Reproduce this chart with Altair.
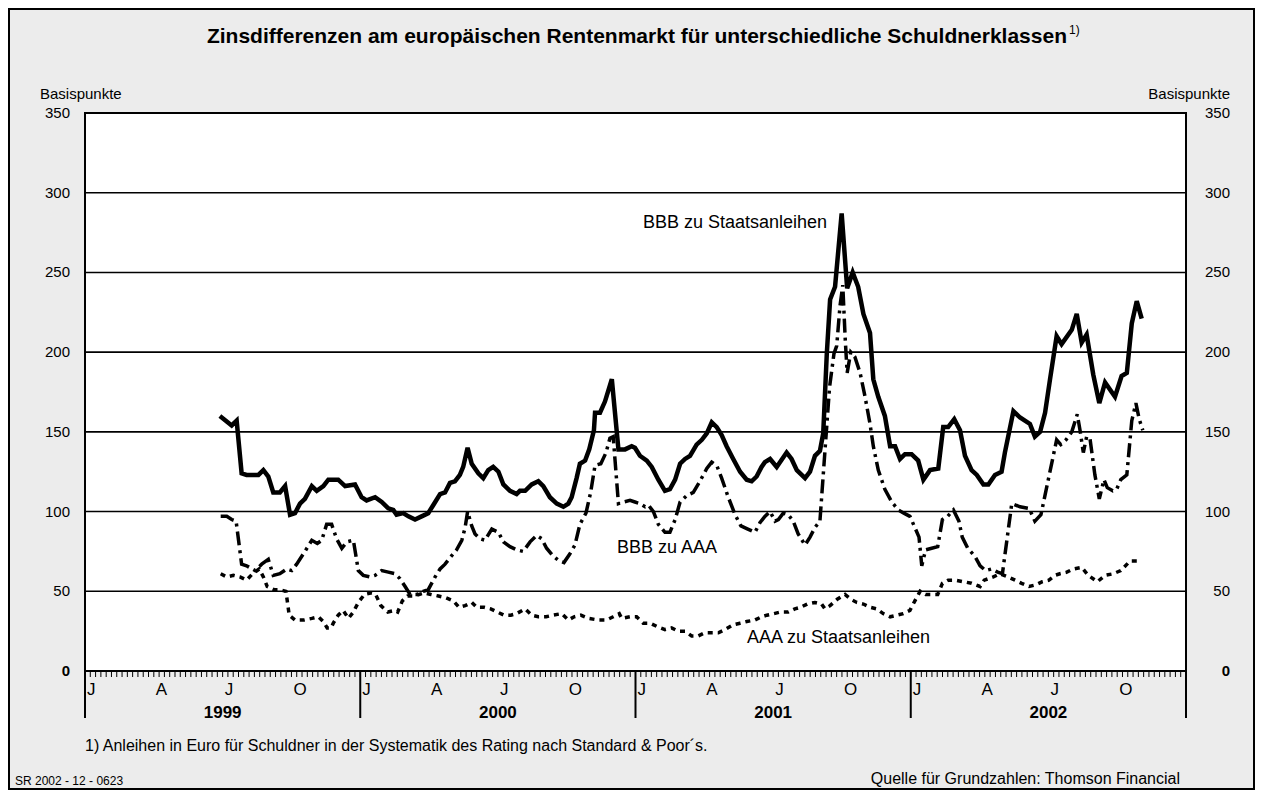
import altair as alt
import pandas as pd

# ---------------- data ----------------
bbb_staat_jahr = [1999.490, 1999.533, 1999.551, 1999.569, 1999.587, 1999.630, 1999.648, 1999.666, 1999.684, 1999.708,
                  1999.727, 1999.745, 1999.763, 1999.781, 1999.799, 1999.824, 1999.842, 1999.866, 1999.884, 1999.920,
                  1999.945, 1999.981, 2000.005, 2000.023, 2000.054, 2000.078, 2000.102, 2000.120, 2000.132, 2000.156,
                  2000.175, 2000.199, 2000.223, 2000.247, 2000.265, 2000.290, 2000.308, 2000.326, 2000.344, 2000.362,
                  2000.374, 2000.390, 2000.405, 2000.429, 2000.447, 2000.465, 2000.483, 2000.502, 2000.520, 2000.544,
                  2000.568, 2000.580, 2000.599, 2000.623, 2000.647, 2000.665, 2000.689, 2000.714, 2000.738, 2000.756,
                  2000.768, 2000.786, 2000.798, 2000.817, 2000.832, 2000.849, 2000.853, 2000.871, 2000.889, 2000.914,
                  2000.938, 2000.962, 2000.986, 2000.998, 2001.016, 2001.041, 2001.059, 2001.083, 2001.107, 2001.125,
                  2001.144, 2001.162, 2001.180, 2001.198, 2001.222, 2001.241, 2001.259, 2001.277, 2001.295, 2001.313,
                  2001.331, 2001.355, 2001.380, 2001.404, 2001.422, 2001.440, 2001.458, 2001.470, 2001.489, 2001.513,
                  2001.549, 2001.567, 2001.586, 2001.616, 2001.634, 2001.652, 2001.670, 2001.682, 2001.695, 2001.707,
                  2001.725, 2001.749, 2001.769, 2001.789, 2001.809, 2001.828, 2001.852, 2001.864, 2001.882, 2001.906,
                  2001.925, 2001.943, 2001.961, 2001.979, 2002.003, 2002.027, 2002.046, 2002.070, 2002.100, 2002.118,
                  2002.136, 2002.158, 2002.179, 2002.197, 2002.221, 2002.240, 2002.264, 2002.282, 2002.306, 2002.330,
                  2002.342, 2002.373, 2002.397, 2002.433, 2002.451, 2002.470, 2002.488, 2002.506, 2002.530, 2002.548,
                  2002.585, 2002.603, 2002.621, 2002.639, 2002.663, 2002.685, 2002.706, 2002.742, 2002.766, 2002.785,
                  2002.803, 2002.821, 2002.839]
bbb_staat_wert = [160, 154, 157, 124, 123, 123, 126, 122, 112, 112,
                  116, 98, 99, 105, 108, 116, 113, 116, 120, 120,
                  116, 117, 109, 107, 109, 106, 102, 101, 98, 99,
                  97, 95, 97, 99, 104, 111, 112, 118, 119, 123,
                  128, 140, 130, 124, 121, 126, 128, 125, 117, 113,
                  111, 113, 113, 117, 119, 116, 109, 105, 103, 105,
                  109, 121, 130, 132, 139, 151, 162, 162, 169, 183,
                  139, 139, 141, 140, 135, 132, 128, 120, 113, 114,
                  120, 130, 133, 135, 142, 145, 149, 156, 153, 148,
                  141, 133, 125, 120, 119, 122, 128, 131, 133, 128,
                  137, 133, 126, 121, 125, 135, 138, 149, 199, 233,
                  241, 287, 240, 250, 241, 224, 212, 183, 172, 160,
                  141, 141, 133, 136, 136, 132, 120, 126, 127, 153,
                  153, 158, 151, 135, 126, 123, 117, 117, 123, 125,
                  137, 163, 159, 155, 147, 150, 162, 183, 210, 205,
                  214, 224, 206, 211, 186, 168, 181, 172, 185, 187,
                  218, 232, 221]

bbb_aaa_jahr = [1999.493, 1999.515, 1999.533, 1999.549, 1999.569, 1999.587, 1999.618, 1999.642, 1999.666, 1999.684,
                1999.708, 1999.733, 1999.751, 1999.769, 1999.799, 1999.824, 1999.844, 1999.860, 1999.878, 1999.896,
                1999.914, 1999.933, 1999.951, 1999.975, 1999.993, 2000.011, 2000.035, 2000.054, 2000.078, 2000.102,
                2000.126, 2000.144, 2000.163, 2000.181, 2000.205, 2000.229, 2000.247, 2000.272, 2000.290, 2000.308,
                2000.326, 2000.350, 2000.369, 2000.381, 2000.390, 2000.405, 2000.417, 2000.435, 2000.453, 2000.478,
                2000.502, 2000.520, 2000.544, 2000.568, 2000.592, 2000.617, 2000.641, 2000.659, 2000.677, 2000.701,
                2000.723, 2000.740, 2000.760, 2000.780, 2000.798, 2000.820, 2000.837, 2000.853, 2000.874, 2000.893,
                2000.907, 2000.919, 2000.938, 2000.956, 2000.980, 2000.998, 2001.016, 2001.035, 2001.047, 2001.065,
                2001.083, 2001.107, 2001.125, 2001.144, 2001.162, 2001.186, 2001.210, 2001.234, 2001.259, 2001.277,
                2001.295, 2001.313, 2001.337, 2001.362, 2001.383, 2001.408, 2001.434, 2001.452, 2001.470, 2001.489,
                2001.507, 2001.519, 2001.537, 2001.555, 2001.573, 2001.591, 2001.616, 2001.634, 2001.652, 2001.670,
                2001.705, 2001.721, 2001.731, 2001.743, 2001.753, 2001.762, 2001.769, 2001.782, 2001.797, 2001.816,
                2001.834, 2001.852, 2001.864, 2001.882, 2001.906, 2001.931, 2001.955, 2001.975, 2001.997, 2002.015,
                2002.030, 2002.040, 2002.054, 2002.076, 2002.098, 2002.115, 2002.134, 2002.155, 2002.175, 2002.187,
                2002.207, 2002.233, 2002.252, 2002.272, 2002.294, 2002.316, 2002.333, 2002.367, 2002.397, 2002.430,
                2002.451, 2002.473, 2002.530, 2002.545, 2002.564, 2002.585, 2002.605, 2002.615, 2002.627, 2002.639,
                2002.651, 2002.669, 2002.685, 2002.702, 2002.714, 2002.734, 2002.748, 2002.763, 2002.785, 2002.803,
                2002.818, 2002.830, 2002.843]
bbb_aaa_wert = [97, 97, 95, 94, 67, 66, 63, 67, 70, 60,
                61, 64, 63, 67, 75, 82, 80, 82, 92, 92,
                83, 77, 81, 82, 63, 60, 59, 60, 63, 62,
                61, 58, 53, 48, 48, 50, 51, 59, 64, 67,
                71, 76, 82, 90, 100, 91, 86, 83, 82, 89,
                87, 81, 78, 76, 75, 81, 85, 83, 77, 72,
                69, 68, 73, 79, 92, 99, 112, 129, 130, 137,
                146, 147, 105, 106, 107, 106, 105, 103, 104, 100,
                92, 87, 87, 95, 106, 110, 112, 119, 127, 131,
                129, 121, 109, 98, 91, 89, 87, 93, 97, 100,
                94, 95, 99, 98, 94, 86, 79, 84, 90, 94,
                178, 199, 204, 229, 242, 208, 187, 200, 197, 187,
                172, 155, 141, 126, 114, 106, 101, 99, 97, 90,
                84, 66, 76, 77, 78, 95, 97, 101, 94, 84,
                77, 72, 66, 63, 64, 62, 61, 105, 103, 102,
                94, 98, 145, 142, 145, 150, 161, 151, 137, 147,
                146, 123, 108, 120, 115, 113, 114, 120, 123, 157,
                168, 158, 151]

aaa_staat_jahr = [1999.493, 1999.515, 1999.539, 1999.563, 1999.587, 1999.609, 1999.633, 1999.648, 1999.662, 1999.687,
                  1999.708, 1999.730, 1999.742, 1999.763, 1999.796, 1999.824, 1999.848, 1999.866, 1999.880, 1999.894,
                  1999.902, 1999.920, 1999.938, 1999.957, 1999.975, 1999.993, 2000.015, 2000.042, 2000.056, 2000.075,
                  2000.100, 2000.126, 2000.136, 2000.153, 2000.172, 2000.193, 2000.213, 2000.233, 2000.257, 2000.284,
                  2000.310, 2000.338, 2000.359, 2000.381, 2000.405, 2000.423, 2000.450, 2000.474, 2000.498, 2000.522,
                  2000.547, 2000.568, 2000.599, 2000.623, 2000.647, 2000.675, 2000.701, 2000.732, 2000.756, 2000.777,
                  2000.801, 2000.829, 2000.865, 2000.895, 2000.919, 2000.941, 2000.950, 2000.980, 2001.004, 2001.028,
                  2001.053, 2001.077, 2001.107, 2001.131, 2001.155, 2001.180, 2001.204, 2001.228, 2001.252, 2001.277,
                  2001.301, 2001.325, 2001.355, 2001.380, 2001.404, 2001.434, 2001.458, 2001.477, 2001.503, 2001.527,
                  2001.555, 2001.579, 2001.600, 2001.624, 2001.652, 2001.676, 2001.688, 2001.707, 2001.733, 2001.761,
                  2001.782, 2001.804, 2001.828, 2001.852, 2001.876, 2001.900, 2001.925, 2001.949, 2001.973, 2001.997,
                  2002.015, 2002.034, 2002.054, 2002.076, 2002.098, 2002.115, 2002.136, 2002.161, 2002.191, 2002.221,
                  2002.252, 2002.267, 2002.300, 2002.324, 2002.354, 2002.379, 2002.403, 2002.430, 2002.454, 2002.478,
                  2002.502, 2002.524, 2002.542, 2002.567, 2002.591, 2002.621, 2002.645, 2002.678, 2002.706, 2002.736,
                  2002.763, 2002.797, 2002.835]
aaa_staat_wert = [61, 59, 60, 59, 57, 61, 64, 59, 53, 51,
                  51, 50, 35, 32, 32, 33, 34, 31, 27, 27,
                  30, 35, 38, 33, 37, 43, 48, 49, 48, 41,
                  37, 38, 37, 44, 47, 47, 48, 49, 48, 47,
                  46, 44, 40, 41, 43, 40, 40, 39, 37, 35,
                  35, 36, 39, 35, 34, 34, 35, 36, 32, 34,
                  35, 33, 32, 32, 34, 36, 33, 34, 34, 30,
                  30, 28, 26, 27, 25, 25, 22, 22, 24, 24,
                  24, 26, 29, 30, 31, 32, 34, 35, 36, 37,
                  37, 39, 40, 42, 43, 42, 39, 41, 45, 48,
                  45, 43, 42, 40, 39, 36, 34, 35, 36, 38,
                  44, 50, 48, 48, 48, 55, 57, 57, 56, 55,
                  53, 57, 59, 61, 59, 57, 55, 53, 54, 56,
                  57, 60, 61, 62, 64, 65, 60, 56, 60, 61,
                  63, 69, 69]

serien_namen = ["BBB zu Staatsanleihen", "BBB zu AAA", "AAA zu Staatsanleihen"]
label_jahr = [2001.027, 2000.933, 2001.405]
label_wert = [281, 77, 21]

y_werte = [0, 50, 100, 150, 200, 250, 300, 350]
gitter_werte = [50, 100, 150, 200, 250, 300]
jahre = [1999, 2000, 2001, 2002]
quartal_anteil = [0.0, 0.25, 0.5, 0.75]
quartal_text = ["J", "A", "J", "O"]
wochen_pro_jahr = 52

titel = "Zinsdifferenzen am europäischen Rentenmarkt für unterschiedliche Schuldnerklassen"
fussnote = "1) Anleihen in Euro für Schuldner in der Systematik des Rating nach Standard & Poor´s."
quelle = "Quelle für Grundzahlen: Thomson Financial"
kennung = "SR 2002 - 12 - 0623"
einheit = "Basispunkte"

# ---------------- layout ----------------
W, H = 1101, 558
PAD_L, PAD_T, PAD_R, PAD_B = 77, 105, 69, 119
FONT = "Liberation Sans"

xs = alt.Scale(domain=[1999, 2003], nice=False, zero=False)
ys = alt.Scale(domain=[0, 350], nice=False, zero=False)
X = lambda f: alt.X(f, type="quantitative", scale=xs, axis=None)
Y = lambda f: alt.Y(f, type="quantitative", scale=ys, axis=None)

df_s1 = pd.DataFrame({"jahr": bbb_staat_jahr, "wert": bbb_staat_wert})
df_s2 = pd.DataFrame({"jahr": bbb_aaa_jahr, "wert": bbb_aaa_wert})
df_s3 = pd.DataFrame({"jahr": aaa_staat_jahr, "wert": aaa_staat_wert})

grid = alt.Chart(pd.DataFrame({"g": gitter_werte})).mark_rule(
    color="black", strokeWidth=1.6).encode(y=Y("g"))

line1 = alt.Chart(df_s1).mark_line(
    color="black", strokeWidth=4.5, strokeJoin="miter", strokeCap="butt"
).encode(x=X("jahr"), y=Y("wert"))
line2 = alt.Chart(df_s2).mark_line(
    color="black", strokeWidth=3.5, strokeDash=[14, 5, 3, 5], strokeJoin="miter", strokeCap="butt"
).encode(x=X("jahr"), y=Y("wert"))
line3 = alt.Chart(df_s3).mark_line(
    color="black", strokeWidth=3.5, strokeDash=[5, 5], strokeJoin="miter", strokeCap="butt"
).encode(x=X("jahr"), y=Y("wert"))

df_lab = pd.DataFrame({"jahr": label_jahr, "wert": label_wert, "t": serien_namen})
labels = alt.Chart(df_lab).mark_text(
    align="left", baseline="middle", font=FONT, fontSize=18, color="black"
).encode(x=X("jahr"), y=Y("wert"), text="t:N")

# y-axis labels (left and right); the zero label is bold
df_y0 = pd.DataFrame({"v": [v for v in y_werte if v == 0]})
df_y0["t"] = df_y0["v"].astype(str)
df_yn = pd.DataFrame({"v": [v for v in y_werte if v != 0]})
df_yn["t"] = df_yn["v"].astype(str)


def ylab(df, x, weight):
    return alt.Chart(df).mark_text(
        align="right", baseline="middle", font=FONT, fontSize=15, color="black", fontWeight=weight
    ).encode(y=Y("v"), x=alt.value(x), text="t:N")


ylabs = [ylab(df_yn, -15, "normal"), ylab(df_y0, -15, "bold"),
         ylab(df_yn, W + 44, "normal"), ylab(df_y0, W + 44, "bold")]

# x axis: weekly minor ticks, year ticks, quarter letters, year labels
wochen = [j + i / wochen_pro_jahr for j in jahre for i in range(wochen_pro_jahr)] + [2003]
minor = alt.Chart(pd.DataFrame({"jahr": wochen})).mark_rule(
    color="black", strokeWidth=1).encode(x=X("jahr"), y=alt.value(H), y2=alt.value(H + 6))
major = alt.Chart(pd.DataFrame({"jahr": jahre + [2003]})).mark_rule(
    color="black", strokeWidth=2).encode(x=X("jahr"), y=alt.value(H), y2=alt.value(H + 47))
df_q = pd.DataFrame({"jahr": [j + q for j in jahre for q in quartal_anteil],
                     "t": [t for j in jahre for t in quartal_text]})
qlab = alt.Chart(df_q).mark_text(
    align="left", baseline="middle", dx=2, font=FONT, fontSize=17, color="black"
).encode(x=X("jahr"), y=alt.value(H + 19), text="t:N")
df_j = pd.DataFrame({"jahr": [j + 0.5 for j in jahre], "t": [str(j) for j in jahre]})
jlab = alt.Chart(df_j).mark_text(
    align="center", baseline="middle", font=FONT, fontSize=17, fontWeight="bold", color="black"
).encode(x=X("jahr"), y=alt.value(H + 42), text="t:N")

one = pd.DataFrame({"a": [0]})


def txt(text, x, y, size, align="left", weight="normal"):
    return alt.Chart(one).mark_text(
        text=text, align=align, baseline="middle", font=FONT, fontSize=size,
        fontWeight=weight, color="black"
    ).encode(x=alt.value(x), y=alt.value(y))


title = txt(titel, 982, -76, 21, align="right", weight="bold")
sup = txt("1)", 984, -83, 12)
unit_l = txt(einheit, -45, -19, 15)
unit_r = txt(einheit, W + 44, -19, 15, align="right")
foot = txt(fussnote, 0, 633, 16)
src = txt(quelle, 1095, 666, 16, align="right")
sr = txt(kennung, -70, 668, 12)

frame = alt.Chart(one).mark_rect(filled=False, stroke="black", strokeWidth=2).encode(
    x=alt.value(-PAD_L + 1), x2=alt.value(W + PAD_R - 1),
    y=alt.value(-PAD_T + 1), y2=alt.value(H + PAD_B - 1))

chart = alt.layer(
    frame, grid, line3, line2, line1, labels, *ylabs, minor, major, qlab, jlab,
    title, sup, unit_l, unit_r, foot, src, sr
).properties(
    width=W, height=H,
    padding={"left": PAD_L, "top": PAD_T, "right": PAD_R, "bottom": PAD_B},
    autosize=alt.AutoSizeParams(type="none"),
    background="#ececec",
).configure_view(fill="white", stroke="black", strokeWidth=2)

chart.save("out.html", embed_options={"renderer": "svg", "actions": False})
